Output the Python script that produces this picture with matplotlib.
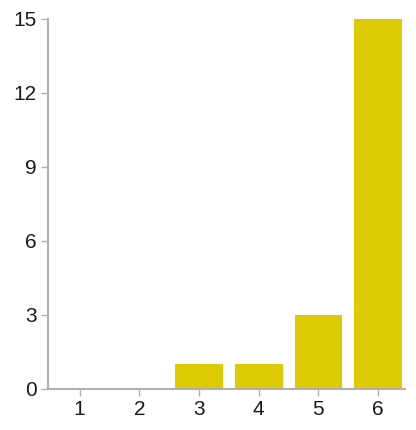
import matplotlib
matplotlib.use("Agg")
import matplotlib.pyplot as plt

categories = [1, 2, 3, 4, 5, 6]
counts = [0, 0, 1, 1, 3, 15]
yticks = [0, 3, 6, 9, 12, 15]

plt.rcParams['font.family'] = ['Liberation Sans', 'DejaVu Sans']

fig = plt.figure(figsize=(4.16, 4.30), dpi=100)
ax = fig.add_axes([48 / 416, 41 / 430, 357 / 416, 370 / 430])

ax.bar(categories, counts, width=0.8, color="#dccb00")

ax.set_xlim(0.47, 6.45)
ax.set_ylim(0, 15)
ax.set_xticks(categories)
ax.set_yticks(yticks)

for s in ["top", "right"]:
    ax.spines[s].set_visible(False)
for s in ["left", "bottom"]:
    ax.spines[s].set_color("#b0b0b0")
    ax.spines[s].set_linewidth(1.5)

ax.tick_params(colors="#b0b0b0", labelcolor="#1a1a1a", labelsize=15, length=5, width=1, pad=3)

fig.savefig("out.png", dpi=100)
